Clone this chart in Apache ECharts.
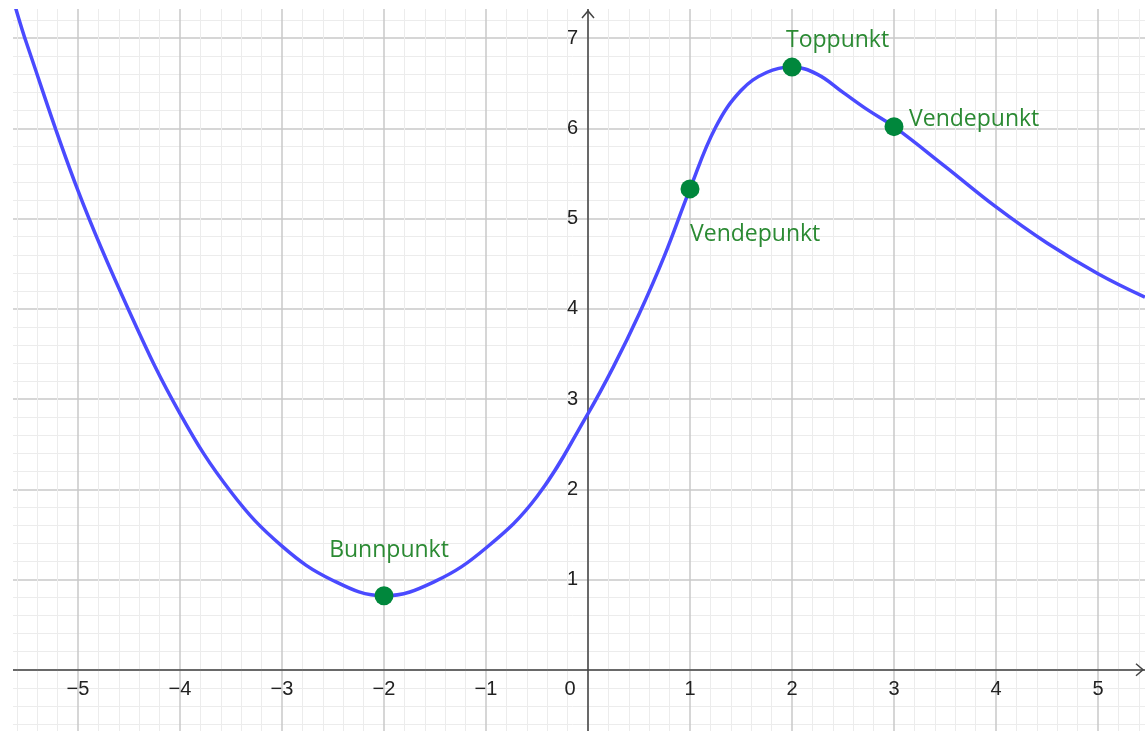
<!DOCTYPE html>
<html>
<head>
<meta charset="utf-8">
<script src="https://cdn.jsdelivr.net/npm/echarts@6/dist/echarts.min.js"></script>
<style>
  html, body { margin: 0; padding: 0; background: #fff; }
  #main { width: 1145px; height: 731px; }
</style>
</head>
<body>
<div id="main"></div>
<script>
// kurven, lest av fra bildet
var curveX = [-5.61, -5.5, -5.0, -4.5, -4.0, -3.5, -3.0, -2.5, -2.0, -1.5, -1.0, -0.5, 0, 0.25, 0.5, 0.75,
    1.0, 1.25, 1.5, 1.75, 2.0, 2.25, 2.5, 2.75, 3.0, 3.5, 4.0, 4.5, 5.0, 5.46];
var curveY = [7.33, 6.93, 5.31, 3.98, 2.84, 1.97, 1.37, 0.99, 0.82, 0.98, 1.35, 1.92, 2.84, 3.36, 3.94, 4.59,
    5.33, 6.01, 6.42, 6.62, 6.68, 6.60, 6.40, 6.20, 6.02, 5.58, 5.13, 4.73, 4.39, 4.13];

// punktene
var pointX = [-2, 1, 2, 3];
var pointY = [0.82, 5.33, 6.68, 6.02];
var pointName = ["Bunnpunkt", "Vendepunkt", "Toppunkt", "Vendepunkt"];

var green = "#00873c";
var textGreen = "#2b8a33";

var curveData = [];
for (var i = 0; i < curveX.length; i++) {
    curveData.push([curveX[i], curveY[i]]);
}

// plassering av tekstene rundt punktene
var labelPos = [
    {align: "center", offset: [5, -45]},
    {align: "left", offset: [0, 46]},
    {align: "left", offset: [-6, -27]},
    {align: "left", offset: [15, -7]}
];
var pointData = [];
for (var i = 0; i < pointX.length; i++) {
    pointData.push({
        value: [pointX[i], pointY[i]],
        name: pointName[i],
        label: {align: labelPos[i].align, offset: labelPos[i].offset}
    });
}

function tickText(v) {
    if (v < 0) return "\u2212" + Math.abs(v);
    return "" + v;
}

// rutenettet går litt utenfor bildet, så aksene flyttes inn til origo
var gridL = -24, gridR = -55, gridT = -52, gridB = -29;
var W = 1145, H = 731;
var xMin = -6, xMax = 6, yMin = -1, yMax = 8;
var unitX = (W - gridR - gridL) / (xMax - xMin);
var unitY = (H - gridB - gridT) / (yMax - yMin);
var xAxisOffset = -(-yMin * unitY);
var yAxisOffset = -(-xMin * unitX);

var chart = echarts.init(document.getElementById("main"));

var option = {
    backgroundColor: "#fff",
    animation: false,
    grid: {left: gridL, right: gridR, top: gridT, bottom: gridB, containLabel: false, outerBoundsMode: "none"},
    xAxis: {
        type: "value",
        min: xMin,
        max: xMax,
        interval: 1,
        offset: xAxisOffset,
        axisLine: {onZero: false, lineStyle: {color: "#444", width: 1.5}},
        axisTick: {show: false},
        axisLabel: {
            margin: 10,
            fontFamily: "Liberation Sans",
            fontSize: 20,
            color: "#222",
            formatter: function (v) {
                if (v === 0) return "{z|0}";
                return tickText(v);
            },
            rich: {z: {fontFamily: "Liberation Sans", fontSize: 20, color: "#222", padding: [0, 36, 0, 0]}}
        },
        splitLine: {show: true, lineStyle: {color: "#c8c8c8", width: 1.5}},
        minorTick: {show: false, splitNumber: 5},
        minorSplitLine: {show: true, lineStyle: {color: "#ececec", width: 1}}
    },
    yAxis: {
        type: "value",
        min: yMin,
        max: yMax,
        interval: 1,
        offset: yAxisOffset,
        axisLine: {onZero: false, lineStyle: {color: "#444", width: 1.5}},
        axisTick: {show: false},
        axisLabel: {
            margin: 10,
            fontFamily: "Liberation Sans",
            fontSize: 20,
            color: "#222",
            formatter: function (v) {
                if (v === 0) return "";
                return tickText(v);
            }
        },
        splitLine: {show: true, lineStyle: {color: "#c8c8c8", width: 1.5}},
        minorTick: {show: false, splitNumber: 5},
        minorSplitLine: {show: true, lineStyle: {color: "#ececec", width: 1}}
    },
    series: [
        {
            type: "line",
            data: curveData,
            smooth: 0.4,
            showSymbol: false,
            lineStyle: {color: "#4a4aff", width: 3.5},
            z: 3
        },
        {
            type: "scatter",
            data: pointData,
            symbolSize: 19,
            itemStyle: {color: green, opacity: 1},
            label: {
                show: true,
                position: "inside",
                formatter: "{b}",
                color: textGreen,
                fontFamily: "Open Sans",
                fontSize: 23,
                verticalAlign: "middle"
            },
            z: 4
        }
    ]
};
chart.setOption(option);

// hvite kanter og pilspisser på aksene
var o = chart.convertToPixel({gridIndex: 0}, [0, 0]);
chart.setOption({
    graphic: [
        {type: "rect", shape: {x: 0, y: 0, width: 13, height: H}, style: {fill: "#fff"}, z: 100},
        {type: "rect", shape: {x: 0, y: 0, width: W, height: 9}, style: {fill: "#fff"}, z: 100},
        {
            type: "polyline", z: 101,
            shape: {points: [[o[0] - 6, 18], [o[0], 11], [o[0] + 6, 18]]},
            style: {stroke: "#444", lineWidth: 1.5, fill: null}
        },
        {
            type: "polyline", z: 101,
            shape: {points: [[1136, o[1] - 6], [1143, o[1]], [1136, o[1] + 6]]},
            style: {stroke: "#444", lineWidth: 1.5, fill: null}
        }
    ]
});
</script>
</body>
</html>
